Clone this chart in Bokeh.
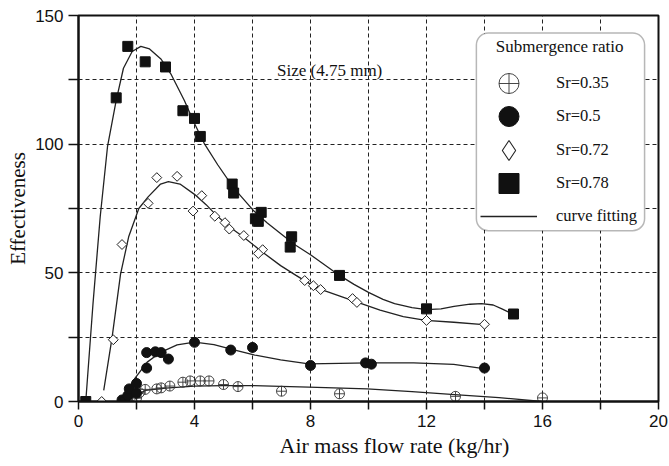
from math import pi

from bokeh.embed import file_html
from bokeh.models import (BoxAnnotation, FixedTicker, Label, Legend, LegendItem,
                          Range1d, Title)
from bokeh.plotting import figure
from bokeh.resources import INLINE

# ---- measured points: air mass flow rate (kg/hr) vs effectiveness ----
sr035_x = [1.85, 1.85, 2.0, 2.1, 2.3, 2.7, 2.85, 3.15, 3.6, 3.85, 4.2, 4.5, 5.0, 5.5, 7.0, 9.0, 13.0, 16.0]
sr035_y = [0.0, 2.3, 1.3, 3.4, 4.7, 4.9, 5.3, 6.0, 7.5, 8.0, 8.0, 8.0, 6.6, 5.8, 4.0, 3.0, 2.0, 1.4]

sr050_x = [1.5, 1.6, 1.7, 1.75, 2.0, 2.0, 2.35, 2.35, 2.65, 2.85, 3.1, 4.0, 5.25, 6.0, 8.0, 9.9, 10.1, 14.0]
sr050_y = [0.6, 0.4, 2.3, 4.9, 3.2, 7.0, 13.0, 19.0, 19.3, 19.0, 16.5, 23.0, 20.0, 21.0, 14.0, 15.0, 14.5, 13.0]

sr072_x = [0.8, 1.2, 1.5, 2.4, 2.7, 3.4, 3.95, 4.25, 4.7, 5.05, 5.2, 5.7, 6.35, 6.2, 7.8, 8.1, 8.35, 9.45, 9.6, 12.0, 14.0]
sr072_y = [0.0, 24.0, 61.0, 77.0, 87.0, 87.5, 74.0, 80.0, 72.0, 69.5, 67.0, 64.5, 59.0, 57.5, 47.0, 45.0, 43.5, 40.0, 38.5, 31.5, 30.0]

sr078_x = [0.25, 1.3, 1.7, 2.3, 3.0, 3.6, 4.0, 4.2, 5.3, 5.35, 6.1, 6.3, 6.2, 7.35, 7.3, 9.0, 12.0, 15.0]
sr078_y = [0.0, 118.0, 138.0, 132.0, 130.0, 113.0, 110.0, 103.0, 84.5, 81.0, 71.0, 73.5, 70.0, 64.0, 60.0, 49.0, 36.0, 34.0]

# ---- fitted curves ----
fit035_x = [1.74, 2.0, 2.31, 3.0, 4.0, 5.0, 5.93, 6.97, 7.94, 9.95, 11.5, 12.97, 14.5, 15.97]
fit035_y = [0.8, 2.5, 4.3, 5.2, 6.0, 6.2, 6.2, 5.9, 5.6, 4.9, 3.8, 2.7, 1.5, 0.0]

fit050_x = [1.45, 1.56, 1.75, 1.97, 2.37, 2.83, 3.4, 4.0, 4.67, 5.36, 6.05, 6.97, 7.94, 9.0, 10.0, 11.56, 12.94, 13.97]
fit050_y = [0.0, 1.7, 5.5, 9.4, 15.3, 19.1, 22.0, 23.1, 22.1, 20.1, 18.1, 16.2, 14.6, 14.8, 15.0, 15.0, 14.4, 12.8]

fit072_x = [0.87, 1.16, 1.45, 1.73, 2.08, 2.4, 2.83, 3.1, 3.5, 4.0, 4.4, 4.7, 5.13, 5.7, 6.28, 6.97, 7.5, 7.94,
            8.5, 9.26, 10.4, 11.2, 11.97, 12.94, 13.97]
fit072_y = [4.3, 25.0, 49.5, 64.0, 75.0, 79.5, 84.5, 85.4, 84.5, 80.5, 76.5, 73.0, 68.5, 63.8, 58.6, 52.8, 49.0, 46.0,
            43.0, 40.0, 35.5, 33.0, 31.5, 30.8, 29.9]

fit078_x = [0.25, 0.5, 0.75, 1.0, 1.3, 1.55, 1.85, 2.15, 2.45, 2.85, 3.2, 3.65, 4.0, 4.35, 4.8, 5.35, 6.05, 6.5,
            7.0, 7.45, 8.0, 9.0, 9.5, 10.0, 10.5, 10.9, 11.5, 12.0, 12.5, 12.95, 13.5, 13.9, 14.3, 14.6, 15.0]
fit078_y = [0.0, 38.0, 72.0, 99.0, 117.0, 129.5, 136.0, 138.0, 137.0, 133.0, 127.0, 117.0, 108.0, 100.0, 92.0, 83.0,
            74.0, 69.5, 65.0, 61.0, 57.0, 49.0, 45.5, 42.4, 39.7, 38.0, 36.5, 35.7, 36.0, 37.0, 37.8, 38.0, 37.5,
            36.0, 33.8]

legend_labels = ["Sr=0.35", "Sr=0.5", "Sr=0.72", "Sr=0.78", "curve fitting"]

x_major = [0, 4, 8, 12, 16, 20]
x_minor = [2, 6, 10, 14, 18]
y_major = [0, 50, 100, 150]
y_minor = [25, 75, 125]

SERIF = "Liberation Serif"
SANS = "Liberation Sans"
INK = "#111111"

p = figure(width=669, height=466, output_backend="svg", toolbar_location=None,
           x_range=Range1d(0, 20), y_range=Range1d(0, 150),
           min_border_left=78, min_border_right=11, min_border_top=15, min_border_bottom=65)
p.background_fill_color = "white"
p.border_fill_color = "white"
p.outline_line_color = INK
p.outline_line_width = 2

# axes and ticks
for ax, major, minor, out in ((p.xaxis[0], x_major, x_minor, 8), (p.yaxis[0], y_major, y_minor, 10)):
    ax.ticker = FixedTicker(ticks=major, minor_ticks=minor)
    ax.axis_line_color = INK
    ax.axis_line_width = 2
    ax.major_tick_line_color = INK
    ax.minor_tick_line_color = INK
    ax.major_tick_line_width = 1.5
    ax.minor_tick_line_width = 1.5
    ax.major_tick_in = 0
    ax.minor_tick_in = 0
    ax.major_tick_out = out
    ax.minor_tick_out = out
    ax.major_label_text_font = SANS
    ax.major_label_text_font_size = "17px"
    ax.major_label_text_color = INK
    ax.major_label_standoff = 5

p.yaxis[0].axis_label = "Effectiveness"
p.yaxis[0].axis_label_text_font = SERIF
p.yaxis[0].axis_label_text_font_size = "21px"
p.yaxis[0].axis_label_text_font_style = "normal"
p.yaxis[0].axis_label_text_color = INK
p.yaxis[0].axis_label_standoff = 2

# x-axis title sits right of centre, so it is a left-aligned title with an offset
p.add_layout(Title(text="Air mass flow rate (kg/hr)", align="left", offset=201, standoff=2,
                   text_font=SERIF, text_font_size="22px", text_font_style="normal",
                   text_color=INK), "below")

# dashed grid at every tick
for g in (p.xgrid[0], p.ygrid[0]):
    g.grid_line_color = "#222222"
    g.grid_line_dash = "4 3"
    g.grid_line_width = 1
    g.minor_grid_line_color = "#222222"
    g.minor_grid_line_dash = "4 3"
    g.minor_grid_line_width = 1

# fitted curves
curve_kw = dict(line_color="#222222", line_width=1.3)
c035 = p.line(fit035_x, fit035_y, **curve_kw)
c050 = p.line(fit050_x, fit050_y, **curve_kw)
c072 = p.line(fit072_x, fit072_y, **curve_kw)
c078 = p.line(fit078_x, fit078_y, **curve_kw)

# measured markers
r035 = p.scatter(sr035_x, sr035_y, marker="circle_cross", size=10,
                 fill_color="white", fill_alpha=0.0, line_color="#333333", line_width=0.9)
r050 = p.scatter(sr050_x, sr050_y, marker="circle", size=10,
                 fill_color=INK, line_color=INK)
# open diamonds: a diamond marker (used as the legend swatch, since legend
# swatches ignore marker angle) under a rotated square of equal proportions
r072_key = p.scatter(sr072_x, sr072_y, marker="diamond", size=8,
                     fill_color="white", line_color="#222222", line_width=1.1)
r072 = p.scatter(sr072_x, sr072_y, marker="square", angle=pi / 4, size=7,
                 fill_color="white", line_color="#222222", line_width=1)
r078 = p.scatter(sr078_x, sr078_y, marker="square", size=10,
                 fill_color=INK, line_color=INK)

# rounded legend frame
p.add_layout(BoxAnnotation(left=13.72, right=19.52, bottom=66.4, top=143.2,
                           fill_color="white", fill_alpha=1.0,
                           line_color=INK, line_width=1.5, border_radius=12))
p.add_layout(Label(x=16.59, y=137.8, text="Submergence ratio", text_align="center",
                   text_baseline="middle", text_font=SERIF, text_font_size="17px",
                   text_color=INK))

# one single-row legend per entry, so the swatches can be large while rows stay close
legend_renderers = [r035, r050, r072_key, r078, c078]
row_bottoms = [293, 260, 226, 193, 160]   # px above the frame bottom
for label, rend, yb in zip(legend_labels, legend_renderers, row_bottoms):
    p.add_layout(Legend(
        items=[LegendItem(label=label, renderers=[rend])],
        location=(402, yb), glyph_width=57, glyph_height=50, label_height=20,
        padding=0, margin=0, label_standoff=19,
        background_fill_alpha=0.0, border_line_alpha=0.0,
        label_text_font=SERIF, label_text_font_size="16.5px", label_text_color=INK))

# annotation
p.add_layout(Label(x=8.66, y=128.7, text="Size (4.75 mm)", text_align="center",
                   text_baseline="middle", text_font=SERIF, text_font_size="17px",
                   text_color=INK))

open("out.html", "w").write(file_html(p, INLINE))
